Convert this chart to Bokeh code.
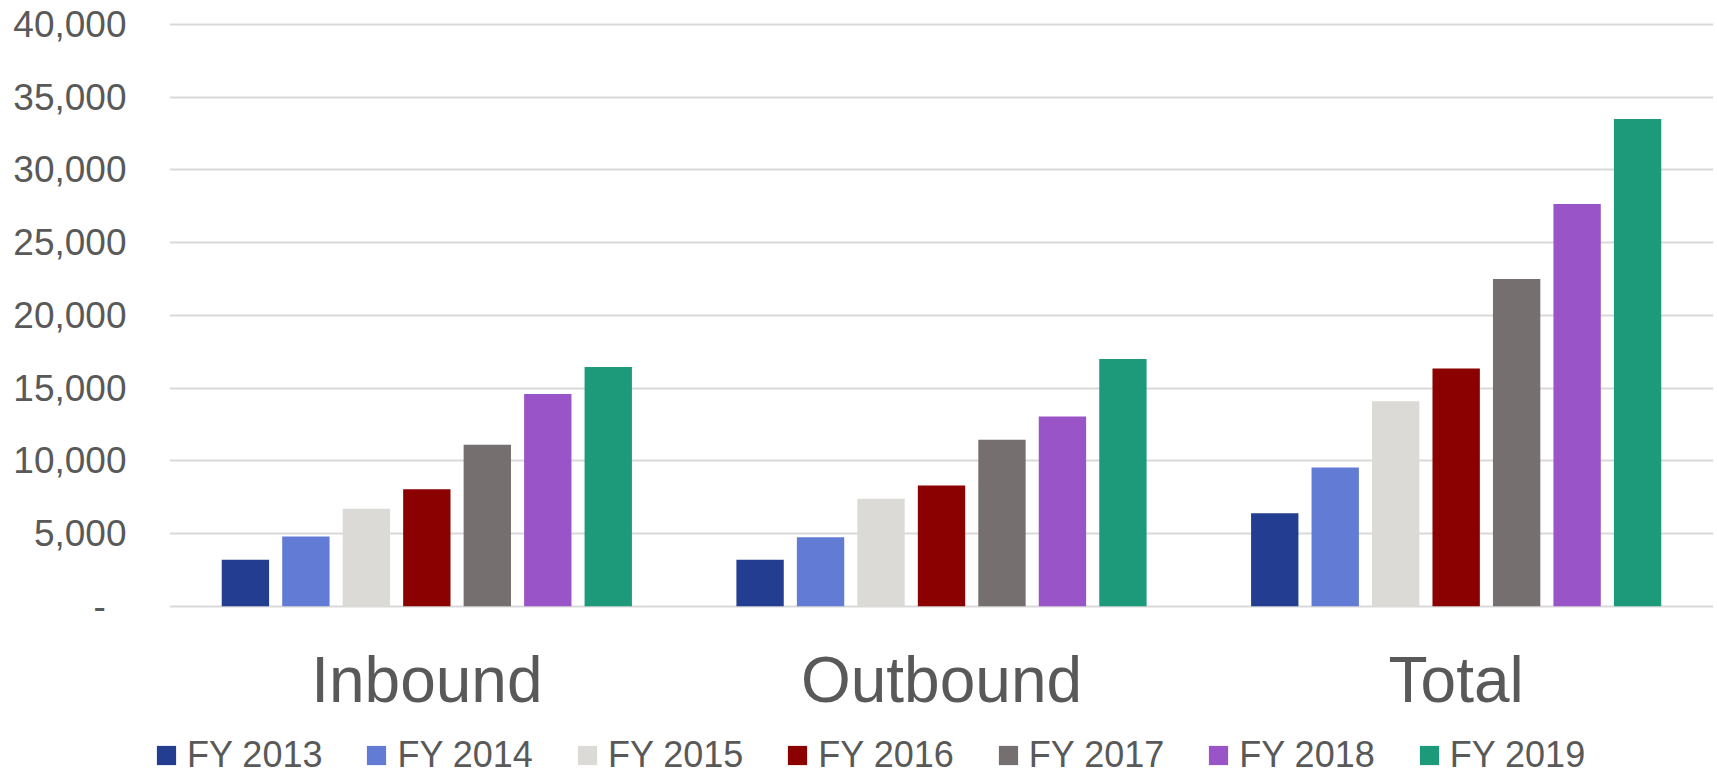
from bokeh.plotting import figure
from bokeh.layouts import column
from bokeh.models import (FactorRange, Range1d, FixedTicker, NumeralTickFormatter,
                          Legend, LegendItem, ColumnDataSource)
from bokeh.transform import dodge
from bokeh.embed import file_html
from bokeh.resources import INLINE

categories = ["Inbound", "Outbound", "Total"]
years = ["FY 2013", "FY 2014", "FY 2015", "FY 2016", "FY 2017", "FY 2018", "FY 2019"]
fy2013 = [3200, 3200, 6400]
fy2014 = [4800, 4750, 9550]
fy2015 = [6700, 7400, 14100]
fy2016 = [8050, 8300, 16350]
fy2017 = [11100, 11450, 22500]
fy2018 = [14600, 13050, 27650]
fy2019 = [16450, 17000, 33500]
colors = ["#233E90", "#627CD6", "#DBDAD6", "#8B0000", "#75706F", "#9955C8", "#1D9A7A"]
y_ticks = [0, 5000, 10000, 15000, 20000, 25000, 30000, 35000, 40000]

series = [fy2013, fy2014, fy2015, fy2016, fy2017, fy2018, fy2019]
data = {"cat": categories}
keys = []
for yr, vals in zip(years, series):
    k = yr.replace(" ", "_")
    keys.append(k)
    data[k] = vals
src = ColumnDataSource(data)

FONT = "Liberation Sans"
TXT = "#595959"
W = 1717
H_MAIN = 730
H_LEG = 46

p = figure(x_range=FactorRange(*categories), y_range=Range1d(-150, 40200),
           width=W, height=H_MAIN, output_backend="svg", toolbar_location=None,
           min_border_left=169, min_border_right=4, min_border_top=21,
           min_border_bottom=H_MAIN - 608)
p.frame_align = False
p.outline_line_color = None
p.background_fill_color = "white"
p.xgrid.grid_line_color = None
p.ygrid.grid_line_color = "#D9D9D9"
p.ygrid.grid_line_width = 2
p.ygrid.ticker = FixedTicker(ticks=y_ticks)

step = 0.1175
width = 0.092
for i, (k, c) in enumerate(zip(keys, colors)):
    p.vbar(x=dodge("cat", (i - 3) * step, range=p.x_range), top=k, width=width,
           source=src, fill_color=c, line_color=None)

ya = p.yaxis[0]
ya.ticker = FixedTicker(ticks=y_ticks)
ya.formatter = NumeralTickFormatter(format="0,0")
ya.major_label_overrides = {0: "-\u00a0\u00a0"}
ya.axis_line_color = None
ya.major_tick_line_color = None
ya.minor_tick_line_color = None
ya.major_tick_out = 0
ya.major_tick_in = 0
ya.major_label_standoff = 43
ya.major_label_text_font = FONT
ya.major_label_text_font_size = "37px"
ya.major_label_text_color = TXT

xa = p.xaxis[0]
xa.axis_line_color = None
xa.major_tick_line_color = None
xa.major_tick_out = 0
xa.major_tick_in = 0
xa.major_label_standoff = 35
xa.major_label_text_font = FONT
xa.major_label_text_font_size = "64px"
xa.major_label_text_color = TXT

# legend strip below the chart: same series, zero-width so only the legend swatches show
p2 = figure(x_range=FactorRange(*categories), y_range=Range1d(-2, -1), width=W, height=H_LEG,
            output_backend="svg", toolbar_location=None,
            min_border_left=0, min_border_right=0, min_border_top=0, min_border_bottom=0)
p2.frame_align = False
p2.axis.visible = False
p2.grid.visible = False
p2.outline_line_color = None
items = []
for i, (k, yr, c) in enumerate(zip(keys, years, colors)):
    r = p2.vbar(x=dodge("cat", (i - 3) * step, range=p2.x_range), top=k, width=0,
                source=src, fill_color=c, line_color=None)
    items.append(LegendItem(label=yr, renderers=[r]))

legend = Legend(items=items, orientation="horizontal", location=(154, 0),
                padding=0, margin=0, spacing=42, label_standoff=9,
                glyph_width=24, glyph_height=24, label_height=20,
                border_line_color=None, background_fill_alpha=0,
                label_text_font=FONT, label_text_font_size="36px",
                label_text_color=TXT)
p2.add_layout(legend, "center")

layout = column(p, p2, spacing=0)
open("out.html", "w").write(file_html(layout, INLINE))
